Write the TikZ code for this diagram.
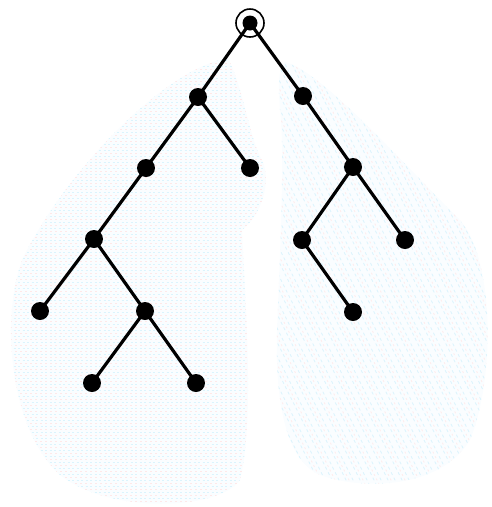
\documentclass[tikz,border=0pt]{standalone}
\begin{document}
\begin{tikzpicture}[x=1pt,y=-1pt,
  dot/.style={circle,fill=black,inner sep=0pt,minimum size=18pt},
  rootdot/.style={circle,fill=black,inner sep=0pt,minimum size=15pt},
  edge/.style={line width=3.2pt},
  blobfill/.style={fill=cyan!2!white},
]
\useasboundingbox (0,0) rectangle (492,507);
% left region
\path[blobfill] (228,58) .. controls (160,70) and (60,180) .. (22,260)
  .. controls (0,320) and (10,430) .. (60,475)
  .. controls (110,515) and (220,510) .. (240,480)
  .. controls (255,420) and (245,300) .. (242,230)
  .. controls (262,215) and (272,180) .. (262,160)
  .. controls (250,140) and (244,90) .. (228,58) -- cycle;
\begin{scope}
\clip (228,58) .. controls (160,70) and (60,180) .. (22,260)
  .. controls (0,320) and (10,430) .. (60,475)
  .. controls (110,515) and (220,510) .. (240,480)
  .. controls (255,420) and (245,300) .. (242,230)
  .. controls (262,215) and (272,180) .. (262,160)
  .. controls (250,140) and (244,90) .. (228,58) -- cycle;
\foreach \y in {60,66,...,510} {
  \draw[cyan!14,line width=0.7pt,dash pattern=on 2pt off 2.5pt] (0,\y) -- (492,\y);
  \draw[red!9,line width=0.7pt,dash pattern=on 2pt off 3pt] (0,\y+3) -- (492,\y+3);
}
\end{scope}
% right region
\path[blobfill] (285,62) .. controls (320,70) and (400,160) .. (460,220)
  .. controls (495,260) and (495,380) .. (470,440)
  .. controls (440,490) and (360,490) .. (320,475)
  .. controls (285,460) and (275,400) .. (277,330)
  .. controls (280,250) and (285,150) .. (280,110)
  .. controls (278,85) and (278,68) .. (285,62) -- cycle;
\begin{scope}
\clip (285,62) .. controls (320,70) and (400,160) .. (460,220)
  .. controls (495,260) and (495,380) .. (470,440)
  .. controls (440,490) and (360,490) .. (320,475)
  .. controls (285,460) and (275,400) .. (277,330)
  .. controls (280,250) and (285,150) .. (280,110)
  .. controls (278,85) and (278,68) .. (285,62) -- cycle;
\foreach \k in {0,7,...,700} {
  \draw[cyan!14,line width=0.7pt,dash pattern=on 3pt off 3pt] (\k-300,0) -- (\k,600);
}
\foreach \k in {3,17,...,700} {
  \draw[red!8,line width=0.7pt,dash pattern=on 2pt off 3pt] (\k-300,0) -- (\k,600);
}
\end{scope}
% tree
\node[rootdot] (r) at (250,23) {};
\draw[line width=1.6pt] (r.center) circle (14);
\node[dot] (a) at (198,97) {};
\node[dot] (b) at (303,96) {};
\node[dot] (c) at (146,168) {};
\node[dot] (d) at (250,168) {};
\node[dot] (e) at (353,167) {};
\node[dot] (f) at (94,239) {};
\node[dot] (g) at (302,240) {};
\node[dot] (h) at (405,240) {};
\node[dot] (i) at (40,311) {};
\node[dot] (j) at (145,311) {};
\node[dot] (k) at (353,312) {};
\node[dot] (l) at (92,383) {};
\node[dot] (m) at (196,383) {};
\draw[edge] (r.center) -- (a.center);
\draw[edge] (r.center) -- (b.center);
\draw[edge] (a.center) -- (c.center);
\draw[edge] (a.center) -- (d.center);
\draw[edge] (b.center) -- (e.center);
\draw[edge] (c.center) -- (f.center);
\draw[edge] (e.center) -- (g.center);
\draw[edge] (e.center) -- (h.center);
\draw[edge] (f.center) -- (i.center);
\draw[edge] (f.center) -- (j.center);
\draw[edge] (g.center) -- (k.center);
\draw[edge] (j.center) -- (l.center);
\draw[edge] (j.center) -- (m.center);
\end{tikzpicture}
\end{document}
